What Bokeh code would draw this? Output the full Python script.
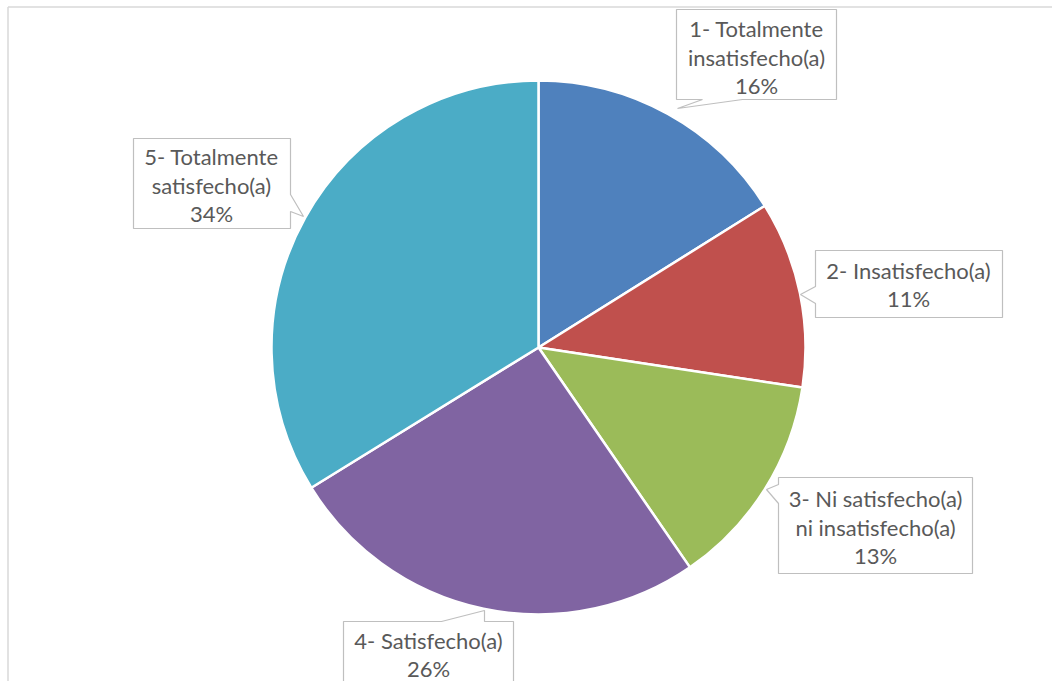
import math
from bokeh.plotting import figure
from bokeh.models import Range1d, ColumnDataSource
from bokeh.core.properties import value
from bokeh.embed import file_html
from bokeh.resources import INLINE

# ---------------- data ----------------
categories = [
    "1- Totalmente insatisfecho(a)",
    "2- Insatisfecho(a)",
    "3- Ni satisfecho(a) ni insatisfecho(a)",
    "4- Satisfecho(a)",
    "5- Totalmente satisfecho(a)",
]
label_lines = [
    ["1- Totalmente", "insatisfecho(a)"],
    ["2- Insatisfecho(a)"],
    ["3- Ni satisfecho(a)", "ni insatisfecho(a)"],
    ["4- Satisfecho(a)"],
    ["5- Totalmente", "satisfecho(a)"],
]
shares = [16.1, 11.3, 13.0, 25.8, 33.8]
colors = ["#4F81BD", "#C0504D", "#9BBB59", "#8064A2", "#4BACC6"]

# ---------------- layout (page pixels) ----------------
W, H = 1052, 681


def py(y):
    return H - y


CX, CY, R = 538, 347, 267

# callout polygons in page pixels (box with pointer tail)
callouts = [
    [(676, 9), (836, 9), (836, 99), (742, 99), (677, 108), (702, 99), (676, 99)],
    [(815, 250), (1002, 250), (1002, 317), (815, 317), (815, 303), (800, 294), (815, 286)],
    [(778, 477), (972, 477), (972, 573), (778, 573), (778, 503), (766, 489), (778, 484)],
    [(343, 621), (441, 621), (484, 610), (484, 621), (513, 621), (513, 710), (343, 710)],
    [(133, 138), (290, 138), (290, 194), (303, 216), (290, 211), (290, 228), (133, 228)],
]
text_x = [756, 908, 875, 428, 211]
first_baseline = [28, 269.5, 498, 639.5, 156]
LINE = 28.5

p = figure(width=W, height=H, output_backend="svg", toolbar_location=None,
           x_range=Range1d(0, W), y_range=Range1d(0, H),
           min_border=0, outline_line_color=None)
p.axis.visible = False
p.grid.visible = False
p.background_fill_color = "white"
p.border_fill_color = "white"

# chart border (left and top)
p.line([7.5, 7.5], [py(720), py(6.5)], line_color="#D9D9D9", line_width=1.5)
p.line([7.5, 1100], [py(6.5), py(6.5)], line_color="#D9D9D9", line_width=1.5)

# pie wedges, clockwise from 12 o'clock
total = sum(shares)
starts, ends = [], []
acc = 0.0
for s in shares:
    starts.append(math.pi / 2 - acc / total * 2 * math.pi)
    acc += s
    ends.append(math.pi / 2 - acc / total * 2 * math.pi)

src = ColumnDataSource(dict(start=starts, end=ends, color=colors, cat=categories))
p.wedge(x=CX, y=py(CY), radius=R, radius_units="screen",
        start_angle="start", end_angle="end", direction="clock",
        fill_color="color", line_color="white", line_width=2.5, source=src)

# callouts
xs = [[pt[0] for pt in poly] for poly in callouts]
ys = [[py(pt[1]) for pt in poly] for poly in callouts]
p.patches(xs, ys, fill_color="white", line_color="#BFBFBF", line_width=1.2)

# label texts
tx, ty, tt = [], [], []
for i, lines in enumerate(label_lines):
    pct = f"{round(shares[i] / total * 100)}%"
    all_lines = lines + [pct]
    for j, ln in enumerate(all_lines):
        tx.append(text_x[i])
        ty.append(py(first_baseline[i] + j * LINE))
        tt.append(ln)

p.text(x=tx, y=ty, text=tt, text_align="center", text_baseline="alphabetic",
       text_font=value("Lato"), text_font_size="22px", text_color="#595959")

open("out.html", "w").write(file_html(p, INLINE))
